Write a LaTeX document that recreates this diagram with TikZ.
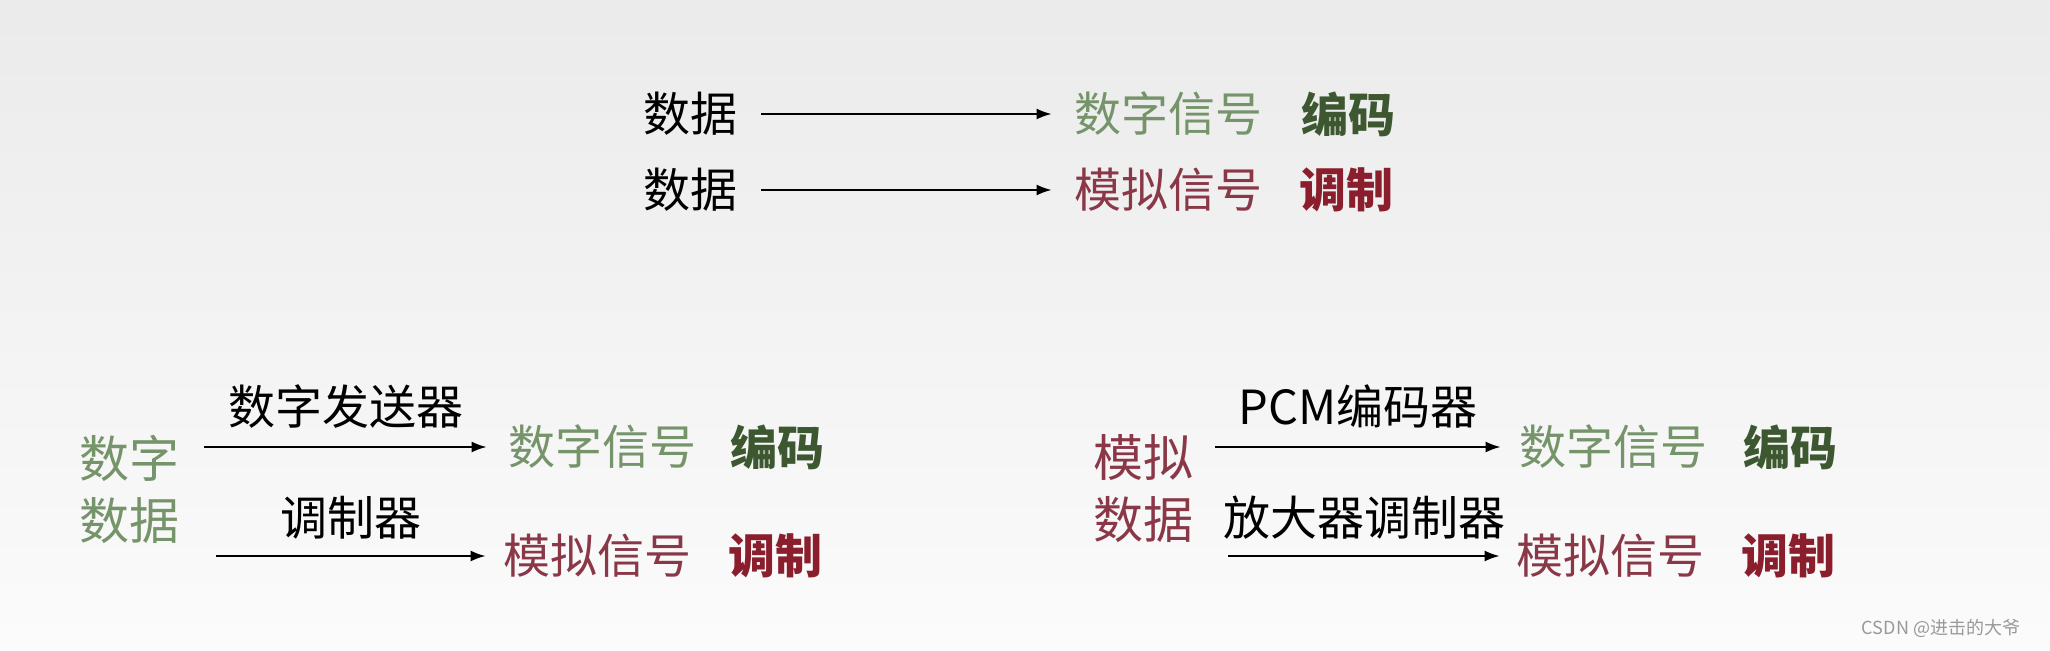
\documentclass[tikz,border=0pt]{standalone}
\usepackage{fontspec}
\setmainfont{Noto Sans CJK SC}
\usetikzlibrary{arrows.meta,positioning}
\definecolor{sigGreen}{HTML}{76946A}
\definecolor{encGreen}{HTML}{3D5830}
\definecolor{sigRed}{HTML}{8A3847}
\definecolor{modRed}{HTML}{8A1E2D}

\begin{document}
\begin{tikzpicture}[x=0.5pt,y=-0.5pt,
        txt/.style={inner sep=0pt,font=\fontsize{23.5}{28}\selectfont},
        sigg/.style={txt,text=sigGreen},
        sigr/.style={txt,text=sigRed},
        encg/.style={txt,text=encGreen,font=\fontsize{23.5}{28}\selectfont\bfseries},
        modr/.style={txt,text=modRed,font=\fontsize{23.5}{28}\selectfont\bfseries},
        src/.style={inner sep=0pt,align=center,font=\fontsize{25}{31}\selectfont},
        arr/.style={-{Latex[length=7.5pt,width=5.5pt]},line width=0.9pt},
        lbl/.style={txt,yshift=20pt}]
    \useasboundingbox (0,0) rectangle (2050,651);
    \fill[top color=black!8,bottom color=black!1.5] (0,0) rectangle (2050,651);
    % top rows
    \node[txt] (d1) at (690,114) {数据};
    \node[sigg] (s1) at (1168,114) {数字信号};
    \node[encg] (e1) at (1348,114) {编码};
    \node[txt] (d2) at (690,190) {数据};
    \node[sigr] (s2) at (1168,190) {模拟信号};
    \node[modr] (e2) at (1346,190) {调制};
    \draw[arr] ([xshift=12pt]d1.east) -- ([xshift=-11pt]s1.west);
    \draw[arr] ([xshift=12pt]d2.east) -- ([xshift=-11pt]s2.west);
    % digital data
    \node[src,text=sigGreen] (dd) at (129,489) {数字\\数据};
    \node[sigg] (ds) at (602,447) {数字信号};
    \node[encg] (de) at (777,447) {编码};
    \node[sigr] (dm) at (597,556) {模拟信号};
    \node[modr] (dc) at (775,556) {调制};
    \draw[arr] ([xshift=12.5pt]dd.east |- ds.west) -- node[lbl] {数字发送器} ([xshift=-10.5pt]ds.west);
    \draw[arr] ([xshift=18.5pt]dd.east |- dm.west) -- node[lbl,yshift=-1pt] {调制器} ([xshift=-8.5pt]dm.west);
    % analog data
    \node[src,text=sigRed] (ad) at (1143,489) {模拟\\数据};
    \node[sigg] (as) at (1613,447) {数字信号};
    \node[encg] (ae) at (1790,447) {编码};
    \node[sigr] (am) at (1610,556) {模拟信号};
    \node[modr] (ac) at (1788,556) {调制};
    \draw[arr] ([xshift=11pt]ad.east |- as.west) -- node[lbl] {PCM编码器} ([xshift=-9pt]as.west);
    \draw[arr] ([xshift=17.5pt]ad.east |- am.west) -- node[lbl,yshift=-1pt] {放大器调制器} ([xshift=-8pt]am.west);
    \node[text=black!40,font=\fontsize{9}{11}\selectfont] (wm) at (1941,628) {CSDN @进击的大爷};
\end{tikzpicture}
\end{document}
